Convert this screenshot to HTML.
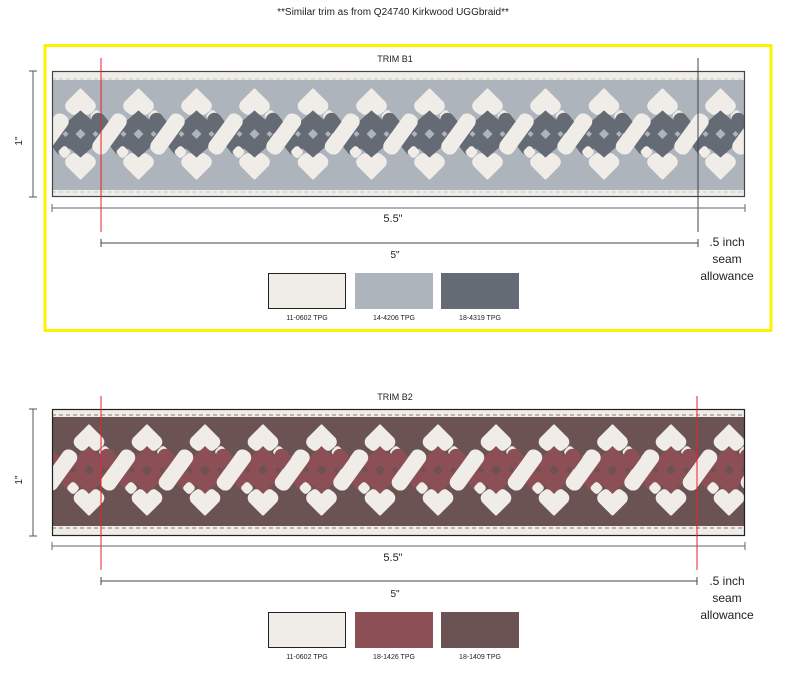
<!DOCTYPE html>
<html><head><meta charset="utf-8"><style>
html,body{margin:0;padding:0;background:#fff;}
svg{display:block;font-family:"Liberation Sans",sans-serif;}
</style></head><body>
<svg width="787" height="700" viewBox="0 0 787 700" xmlns="http://www.w3.org/2000/svg">
<defs>
<clipPath id="c1"><rect x="53" y="72" width="691" height="124"/></clipPath>
<clipPath id="c2"><rect x="53" y="410" width="691" height="125"/></clipPath>
<g id="uA">
  <rect x="-7" y="-25" width="14" height="50" rx="7" fill="var(--d)" transform="translate(29,0) rotate(-38)"/>
  <rect x="-7" y="-25" width="14" height="50" rx="7" fill="var(--d)" transform="translate(-29,0) rotate(-38)"/>
  <polygon points="0,-21 24,0 0,21 -24,0" fill="var(--d)" stroke="var(--d)" stroke-width="4" stroke-linejoin="round"/>
  <rect x="-8" y="-23" width="16" height="46" rx="7" fill="var(--l)" transform="translate(29,0) rotate(36)"/>
  <rect x="-8" y="-23" width="16" height="46" rx="7" fill="var(--l)" transform="translate(-29,0) rotate(36)"/>
  <rect x="-5" y="-5" width="10" height="10" rx="3" fill="var(--l)" transform="translate(16,-18) rotate(45)"/>
  <rect x="-5" y="-5" width="10" height="10" rx="3" fill="var(--l)" transform="translate(-16,18) rotate(45)"/>
  <polygon points="0,-5 5,0 0,5 -5,0" fill="var(--bg)"/>
  <polygon points="-15,-3 -12,0 -15,3 -18,0" fill="var(--bg)"/>
  <polygon points="15,-3 18,0 15,3 12,0" fill="var(--bg)"/>
  <circle cx="29" cy="0" r="1.8" fill="var(--bg)"/>
  <path d="M0,-44 L13,-31 Q15,-27 12,-24 L8,-21 Q6,-20 4,-22 L0,-26 L-4,-22 Q-6,-20 -8,-21 L-12,-24 Q-15,-27 -13,-31 Z" fill="var(--l)" stroke="var(--l)" stroke-width="3" stroke-linejoin="round"/>
  <path d="M0,44 L13,31 Q15,27 12,24 L8,21 Q6,20 4,22 L0,26 L-4,22 Q-6,20 -8,21 L-12,24 Q-15,27 -13,31 Z" fill="var(--l)" stroke="var(--l)" stroke-width="3" stroke-linejoin="round"/>
</g>
</defs>

<text x="393" y="15" font-size="10" text-anchor="middle" fill="#222">**Similar trim as from Q24740 Kirkwood UGGbraid**</text>

<rect x="45" y="45.5" width="726" height="285" fill="none" stroke="#fff200" stroke-width="3"/>
<text x="395" y="62" font-size="9" text-anchor="middle" fill="#222">TRIM B1</text>
<g clip-path="url(#c1)">
  <rect x="52" y="71" width="693" height="126" fill="#f0ede8"/>
  <rect x="52" y="80" width="693" height="110" fill="#aeb4bc"/>
  <line x1="52" y1="79" x2="745" y2="79" stroke="#c2c6cc" stroke-width="1" stroke-dasharray="4,3"/>
  <line x1="52" y1="192" x2="745" y2="192" stroke="#c2c6cc" stroke-width="1" stroke-dasharray="4,3"/>
  <g style="--d:#656b75;--l:#f0ede8;--bg:#aeb4bc">
    <use href="#uA" x="22" y="134"/><use href="#uA" x="80.5" y="134"/><use href="#uA" x="138.5" y="134"/><use href="#uA" x="196.5" y="134"/><use href="#uA" x="254.5" y="134"/><use href="#uA" x="313" y="134"/><use href="#uA" x="371.5" y="134"/><use href="#uA" x="429.5" y="134"/><use href="#uA" x="487.5" y="134"/><use href="#uA" x="545.5" y="134"/><use href="#uA" x="604" y="134"/><use href="#uA" x="662.5" y="134"/><use href="#uA" x="720.5" y="134"/><use href="#uA" x="778.5" y="134"/>
  </g>
</g>
<rect x="52.5" y="71.5" width="692" height="125" fill="none" stroke="#444" stroke-width="1.2"/>
<line x1="101" y1="58" x2="101" y2="232" stroke="#e8202a" stroke-width="1"/>
<line x1="698" y1="58" x2="698" y2="232" stroke="#444" stroke-width="1"/>
<line x1="33" y1="71" x2="33" y2="197" stroke="#555"/>
<line x1="29" y1="71" x2="37" y2="71" stroke="#555"/><line x1="29" y1="197" x2="37" y2="197" stroke="#555"/>
<text x="22" y="141" font-size="10" text-anchor="middle" fill="#222" transform="rotate(-90 22 141)">1"</text>
<line x1="52" y1="208" x2="745" y2="208" stroke="#666"/>
<line x1="52" y1="204" x2="52" y2="212" stroke="#666"/><line x1="745" y1="204" x2="745" y2="212" stroke="#666"/>
<text x="393" y="222" font-size="11" text-anchor="middle" fill="#222">5.5"</text>
<line x1="101" y1="243" x2="698" y2="243" stroke="#444"/>
<line x1="101" y1="239" x2="101" y2="247" stroke="#444"/><line x1="698" y1="239" x2="698" y2="247" stroke="#444"/>
<text x="395" y="258" font-size="10" text-anchor="middle" fill="#222">5"</text>
<text x="727" y="246" font-size="12" text-anchor="middle" fill="#222">.5 inch</text>
<text x="727" y="263" font-size="12" text-anchor="middle" fill="#222">seam</text>
<text x="727" y="280" font-size="12" text-anchor="middle" fill="#222">allowance</text>
<rect x="268.5" y="273.5" width="77" height="35" fill="#f0ede8" stroke="#222" stroke-width="1"/>
<rect x="355" y="273" width="78" height="36" fill="#aeb4bc"/>
<rect x="441" y="273" width="78" height="36" fill="#656b75"/>
<text x="307" y="320" font-size="7" text-anchor="middle" fill="#222">11-0602 TPG</text>
<text x="394" y="320" font-size="7" text-anchor="middle" fill="#222">14-4206 TPG</text>
<text x="480" y="320" font-size="7" text-anchor="middle" fill="#222">18-4319 TPG</text>

<text x="395" y="400" font-size="9" text-anchor="middle" fill="#222">TRIM B2</text>
<g clip-path="url(#c2)">
  <rect x="52" y="409" width="693" height="127" fill="#f0ede8"/>
  <rect x="52" y="417" width="693" height="109" fill="#6b5353"/>
  <line x1="52" y1="415" x2="745" y2="415" stroke="#8a7878" stroke-width="1" stroke-dasharray="4,3"/>
  <line x1="52" y1="528" x2="745" y2="528" stroke="#8a7878" stroke-width="1" stroke-dasharray="4,3"/>
  <g style="--d:#8b4f55;--l:#f0ede8;--bg:#6b5353">
    <use href="#uA" x="31" y="470"/><use href="#uA" x="89" y="470"/><use href="#uA" x="147" y="470"/><use href="#uA" x="205" y="470"/><use href="#uA" x="263" y="470"/><use href="#uA" x="321.5" y="470"/><use href="#uA" x="380" y="470"/><use href="#uA" x="438" y="470"/><use href="#uA" x="496" y="470"/><use href="#uA" x="554" y="470"/><use href="#uA" x="612.5" y="470"/><use href="#uA" x="671" y="470"/><use href="#uA" x="729" y="470"/><use href="#uA" x="787" y="470"/>
  </g>
</g>
<rect x="52.5" y="409.5" width="692" height="126" fill="none" stroke="#222" stroke-width="1.2"/>
<line x1="101" y1="396" x2="101" y2="570" stroke="#e8202a" stroke-width="1"/>
<line x1="697" y1="396" x2="697" y2="570" stroke="#e8202a" stroke-width="1"/>
<line x1="33" y1="409" x2="33" y2="536" stroke="#555"/>
<line x1="29" y1="409" x2="37" y2="409" stroke="#555"/><line x1="29" y1="536" x2="37" y2="536" stroke="#555"/>
<text x="22" y="480" font-size="10" text-anchor="middle" fill="#222" transform="rotate(-90 22 480)">1"</text>
<line x1="52" y1="546" x2="745" y2="546" stroke="#666"/>
<line x1="52" y1="542" x2="52" y2="550" stroke="#666"/><line x1="745" y1="542" x2="745" y2="550" stroke="#666"/>
<text x="393" y="561" font-size="11" text-anchor="middle" fill="#222">5.5"</text>
<line x1="101" y1="581" x2="697" y2="581" stroke="#444"/>
<line x1="101" y1="577" x2="101" y2="585" stroke="#444"/><line x1="697" y1="577" x2="697" y2="585" stroke="#444"/>
<text x="395" y="597" font-size="10" text-anchor="middle" fill="#222">5"</text>
<text x="727" y="585" font-size="12" text-anchor="middle" fill="#222">.5 inch</text>
<text x="727" y="602" font-size="12" text-anchor="middle" fill="#222">seam</text>
<text x="727" y="619" font-size="12" text-anchor="middle" fill="#222">allowance</text>
<rect x="268.5" y="612.5" width="77" height="35" fill="#f0ede8" stroke="#222" stroke-width="1"/>
<rect x="355" y="612" width="78" height="36" fill="#8b4f55"/>
<rect x="441" y="612" width="78" height="36" fill="#6b5353"/>
<text x="307" y="659" font-size="7" text-anchor="middle" fill="#222">11-0602 TPG</text>
<text x="394" y="659" font-size="7" text-anchor="middle" fill="#222">18-1426 TPG</text>
<text x="480" y="659" font-size="7" text-anchor="middle" fill="#222">18-1409 TPG</text>
</svg>
</body></html>
